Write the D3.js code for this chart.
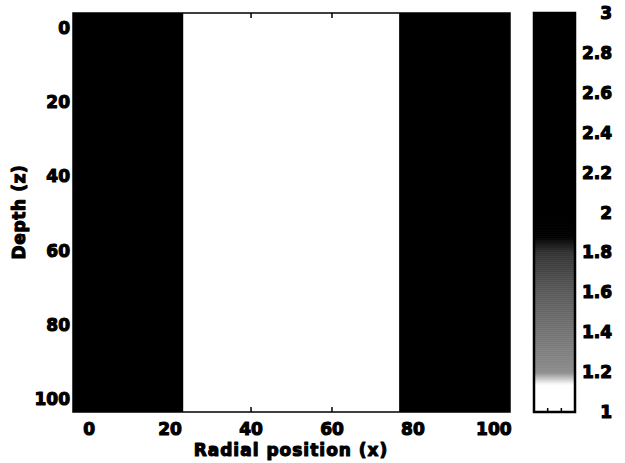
<!DOCTYPE html>
<html>
<head>
<meta charset="utf-8">
<script src="https://cdn.jsdelivr.net/npm/d3@7"></script>
<style>
  body { margin: 0; background: #fff; }
  text { font-family: "DejaVu Sans", sans-serif; font-weight: bold; fill: #000; }
</style>
</head>
<body>
<div id="chart"></div>
<script>
// region edges along radial position and the value in each band
const xEdges = [-4, 23.3, 76.6, 104];
const bandValues = [3, 1, 3];
const depthExtent = [-4, 103.5];

const xTicks = [0, 20, 40, 60, 80, 100];
const yTicks = [0, 20, 40, 60, 80, 100];
const cbTicks = [1, 1.2, 1.4, 1.6, 1.8, 2, 2.2, 2.4, 2.6, 2.8, 3];

// colormap: value -> gray level (0 = black, 1 = white)
const cmapValues = [1, 1.14, 1.2, 1.4, 1.6, 1.8, 1.88, 3];
const cmapGray   = [1, 1, 0.55, 0.45, 0.35, 0.2, 0, 0];

const W = 625, H = 463;
const plot = { left: 73, top: 13, right: 510, bottom: 412 };
const cbar = { left: 534, right: 575, top: 13, bottom: 412 };

const svg = d3.select("#chart").append("svg")
  .attr("width", W).attr("height", H);

svg.append("rect").attr("width", W).attr("height", H).attr("fill", "#fff");

const x = d3.scaleLinear().domain([xEdges[0], xEdges[xEdges.length - 1]])
  .range([plot.left, plot.right]);
const y = d3.scaleLinear().domain(depthExtent).range([plot.top, plot.bottom]);

const grayScale = d3.scaleLinear().domain(cmapValues).range(cmapGray).clamp(true);
const color = v => { const g = Math.round(grayScale(v) * 255); return `rgb(${g},${g},${g})`; };

// heatmap bands
const bands = bandValues.map((v, i) => ({ x0: xEdges[i], x1: xEdges[i + 1], v }));
svg.append("g").selectAll("rect").data(bands).join("rect")
  .attr("x", d => x(d.x0))
  .attr("width", d => x(d.x1) - x(d.x0))
  .attr("y", y(depthExtent[0]))
  .attr("height", y(depthExtent[1]) - y(depthExtent[0]))
  .attr("fill", d => color(d.v));

// axes box
svg.append("rect")
  .attr("x", plot.left).attr("y", plot.top)
  .attr("width", plot.right - plot.left).attr("height", plot.bottom - plot.top)
  .attr("fill", "none").attr("stroke", "#000").attr("stroke-width", 1.5);

const heavy = sel => sel.attr("font-size", 17)
  .attr("stroke", "#000").attr("stroke-width", 1.1).attr("stroke-linejoin", "round");

const tickLen = 5;
const xt = svg.append("g");
xTicks.forEach(t => {
  xt.append("line").attr("x1", x(t)).attr("x2", x(t))
    .attr("y1", plot.bottom).attr("y2", plot.bottom - tickLen)
    .attr("stroke", "#000").attr("stroke-width", 1.5);
  xt.append("line").attr("x1", x(t)).attr("x2", x(t))
    .attr("y1", plot.top).attr("y2", plot.top + tickLen)
    .attr("stroke", "#000").attr("stroke-width", 1.5);
  xt.append("text").attr("x", x(t)).attr("y", 435)
    .attr("text-anchor", "middle").call(heavy)
    .text(t);
});

const yt = svg.append("g");
yTicks.forEach(t => {
  yt.append("line").attr("x1", plot.left).attr("x2", plot.left + tickLen)
    .attr("y1", y(t)).attr("y2", y(t))
    .attr("stroke", "#000").attr("stroke-width", 1.5);
  yt.append("line").attr("x1", plot.right).attr("x2", plot.right - tickLen)
    .attr("y1", y(t)).attr("y2", y(t))
    .attr("stroke", "#000").attr("stroke-width", 1.5);
  yt.append("text").attr("x", 70).attr("y", y(t) + 6)
    .attr("text-anchor", "end").call(heavy)
    .text(t);
});

svg.append("text").attr("x", 291).attr("y", 456)
  .attr("text-anchor", "middle").call(heavy)
  .attr("letter-spacing", 1)
  .text("Radial position (x)");

svg.append("text")
  .attr("transform", "translate(25,212) rotate(-90)")
  .attr("text-anchor", "middle").call(heavy)
  .attr("letter-spacing", 0.6)
  .text("Depth (z)");

// colorbar
const cy = d3.scaleLinear().domain([1, 3]).range([cbar.bottom, cbar.top]);
const cbSteps = d3.range(1, 3, 0.01);
svg.append("g").selectAll("rect").data(cbSteps).join("rect")
  .attr("x", cbar.left)
  .attr("width", cbar.right - cbar.left)
  .attr("y", d => cy(d + 0.01))
  .attr("height", d => cy(d) - cy(d + 0.01) + 0.5)
  .attr("fill", d => color(d + 0.005));

svg.append("rect")
  .attr("x", cbar.left).attr("y", cbar.top)
  .attr("width", cbar.right - cbar.left).attr("height", cbar.bottom - cbar.top)
  .attr("fill", "none").attr("stroke", "#000").attr("stroke-width", 2.5);

[1 / 3, 2 / 3].forEach(f => {
  const cx = cbar.left + f * (cbar.right - cbar.left);
  svg.append("line").attr("x1", cx).attr("x2", cx)
    .attr("y1", cbar.bottom).attr("y2", cbar.bottom - 4)
    .attr("stroke", "#000").attr("stroke-width", 1.5);
});

svg.append("g").selectAll("text").data(cbTicks).join("text")
  .attr("x", 612).attr("y", d => cy(d) + 6)
  .attr("text-anchor", "end").call(heavy)
  .text(d => d3.format("")(+d.toFixed(1)));
</script>
</body>
</html>
